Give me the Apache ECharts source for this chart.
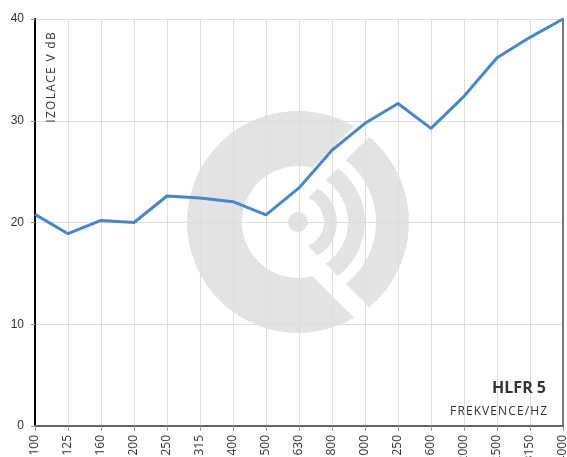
<!DOCTYPE html>
<html>
<head>
<meta charset="utf-8">
<script src="https://cdn.jsdelivr.net/npm/echarts@6/dist/echarts.min.js"></script>
<style>
  html, body { margin: 0; padding: 0; background: #fff; }
  #chart { width: 567px; height: 457px; }
</style>
</head>
<body>
<div id="chart"></div>
<script>
// frekvence (Hz) a zvuková izolace (dB)
const categories = ['100', '125', '160', '200', '250', '315', '400', '500', '630', '800',
  '1000', '1250', '1600', '2000', '2500', '3150', '4000']
const isolation = [20.8, 18.9, 20.2, 20.0, 22.6, 22.4, 22.05, 20.75, 23.4, 27.1,
  29.75, 31.7, 29.25, 32.4, 36.2, 38.2, 40.0]
const yMin = 0
const yMax = 40
const yStep = 10

const chart = echarts.init(document.getElementById('chart'), null, { renderer: 'canvas' })

// vodoznak (logo) – stred a barva
const cx = 298
const cy = 222
const logoColor = '#e2e3e5'
const deg = Math.PI / 180

// bile pruhy, ktere odrezavaji konce oblouku
function band (sign) {
  const pts = [[5, -10], [5, -28], [140, -28], [140, -10]]
  return pts.map(([s, o]) => [cx + (s + o) / Math.SQRT2, cy + sign * (s - o) / Math.SQRT2])
}

function logo () {
  return [
    { type: 'sector', z: -10, shape: { cx, cy, r0: 56, r: 111, startAngle: 60 * deg, endAngle: 300 * deg, clockwise: true }, style: { fill: logoColor } },
    { type: 'sector', z: -10, shape: { cx, cy, r0: 78, r: 111, startAngle: -60 * deg, endAngle: 60 * deg, clockwise: true }, style: { fill: logoColor } },
    { type: 'sector', z: -10, shape: { cx, cy, r0: 50, r: 67, startAngle: -62 * deg, endAngle: 62 * deg, clockwise: true }, style: { fill: logoColor } },
    { type: 'sector', z: -10, shape: { cx, cy, r0: 26, r: 39, startAngle: -66 * deg, endAngle: 66 * deg, clockwise: true }, style: { fill: logoColor } },
    { type: 'circle', z: -10, shape: { cx, cy, r: 10 }, style: { fill: logoColor } },
    { type: 'polygon', z: -9, shape: { points: band(1) }, style: { fill: '#fff' } },
    { type: 'polygon', z: -9, shape: { points: band(-1) }, style: { fill: '#fff' } }
  ]
}

// text s prostrkanymi pismeny (rich text, kazde pismeno zvlast)
function spaced (str) {
  return str.split('').map((c, i) => `{${i < str.length - 1 ? 's' : 'e'}|${c}}`).join('')
}

function spacedText (str, x, y, rot, fontSize, gap, align) {
  const base = { fontSize: fontSize, fontFamily: '"Open Sans", sans-serif', fill: '#333' }
  return {
    type: 'text', z: 10, x: x, y: y, rotation: rot,
    style: {
      text: spaced(str),
      align: align,
      verticalAlign: 'middle',
      rich: {
        s: Object.assign({ padding: [0, gap, 0, 0] }, base),
        e: Object.assign({}, base)
      }
    }
  }
}

const option = {
  backgroundColor: '#fff',
  animation: false,
  textStyle: { fontFamily: '"Open Sans", sans-serif' },
  grid: { left: 35, right: 4, top: 19, bottom: 31, containLabel: false, outerBoundsMode: 'none' },
  xAxis: [{
    type: 'category',
    data: categories,
    boundaryGap: false,
    axisLine: { show: true, lineStyle: { color: '#000', width: 2 } },
    axisTick: { show: true, length: 5, alignWithLabel: true, lineStyle: { color: '#999' } },
    axisLabel: { interval: 0, rotate: 90, margin: 9, fontSize: 12, color: '#333' },
    splitLine: { show: true, lineStyle: { color: '#ddd', width: 1 } }
  }, {
    type: 'category',
    data: categories,
    position: 'top',
    boundaryGap: false,
    axisLine: { show: true, lineStyle: { color: '#888', width: 1.5 } },
    axisTick: { show: false },
    axisLabel: { show: false },
    splitLine: { show: false }
  }],
  yAxis: [{
    type: 'value',
    min: yMin,
    max: yMax,
    interval: yStep,
    axisLine: { show: true, lineStyle: { color: '#000', width: 2 } },
    axisTick: { show: true, length: 4, lineStyle: { color: '#999' } },
    axisLabel: { margin: 11, fontSize: 12, color: '#333', fontFamily: '"Liberation Sans", Arial, sans-serif' },
    splitLine: { show: true, lineStyle: { color: '#ddd', width: 1 } }
  }, {
    type: 'value',
    min: yMin,
    max: yMax,
    interval: yStep,
    position: 'right',
    axisLine: { show: true, lineStyle: { color: '#777', width: 2 } },
    axisTick: { show: false },
    axisLabel: { show: false },
    splitLine: { show: false }
  }],
  graphic: logo().concat([
    spacedText('IZOLACE V dB', 52, 77.5, Math.PI / 2, 12, 1.3, 'center'),
    {
      type: 'text', z: 10, x: 546, y: 388,
      style: { text: 'HLFR 5', font: 'bold 16px "Open Sans", sans-serif', fill: '#333', align: 'right', verticalAlign: 'middle' }
    },
    spacedText('FREKVENCE/HZ', 547, 412, 0, 12, 1.1, 'right')
  ]),
  series: [{
    type: 'line',
    data: isolation,
    xAxisIndex: 0,
    yAxisIndex: 0,
    showSymbol: false,
    symbol: 'none',
    z: 5,
    lineStyle: { color: '#4a86c8', width: 3 },
    itemStyle: { color: '#4a86c8' }
  }]
}

chart.setOption(option)
</script>
</body>
</html>
